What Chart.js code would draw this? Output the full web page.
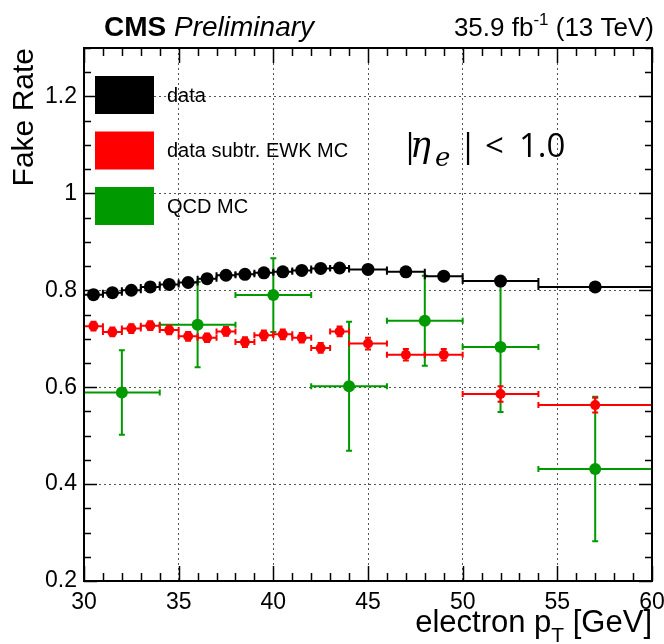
<!DOCTYPE html>
<html>
<head>
<meta charset="utf-8">
<title>Fake rate vs electron pT</title>
<script src="https://cdn.jsdelivr.net/npm/chart.js@4.4.1/dist/chart.umd.min.js"></script>
<style>
  html, body { margin: 0; padding: 0; background: #fff; }
</style>
</head>
<body>
<canvas id="fr" width="664" height="644"></canvas>
<script>
// electron pT bins (centre, half width) used by data and EWK-subtracted data
var ptBins = [30.5, 31.5, 32.5, 33.5, 34.5, 35.5, 36.5, 37.5, 38.5, 39.5, 40.5, 41.5, 42.5, 43.5, 45, 47, 49, 52, 57];
var ptHalf = [0.5, 0.5, 0.5, 0.5, 0.5, 0.5, 0.5, 0.5, 0.5, 0.5, 0.5, 0.5, 0.5, 0.5, 1, 1, 1, 2, 3];

var fakeData = [0.791, 0.795, 0.800, 0.807, 0.812, 0.816, 0.824, 0.831, 0.833, 0.836, 0.838, 0.841, 0.845, 0.846, 0.843, 0.838, 0.829, 0.819, 0.807];
var fakeDataErr = [0.004, 0.004, 0.004, 0.004, 0.004, 0.004, 0.004, 0.004, 0.004, 0.004, 0.004, 0.004, 0.004, 0.004, 0.004, 0.004, 0.004, 0.005, 0.005];

var fakeSubtr = [0.726, 0.714, 0.721, 0.727, 0.718, 0.705, 0.702, 0.715, 0.693, 0.707, 0.709, 0.702, 0.681, 0.715, 0.690, 0.667, 0.667, 0.586, 0.563];
var fakeSubtrErr = [0.009, 0.009, 0.009, 0.009, 0.009, 0.009, 0.009, 0.009, 0.010, 0.010, 0.010, 0.010, 0.010, 0.010, 0.012, 0.012, 0.012, 0.016, 0.015];

// QCD MC uses coarser bins
var qcdBins = [32, 36, 40, 44, 48, 52, 57];
var qcdHalf = [2, 2, 2, 2, 2, 2, 3];
var fakeQcd = [0.589, 0.729, 0.790, 0.602, 0.737, 0.683, 0.431];
var fakeQcdErr = [0.087, 0.088, 0.076, 0.133, 0.093, 0.134, 0.149];

var xTicks = [30, 35, 40, 45, 50, 55, 60];
var yTicks = [0.2, 0.4, 0.6, 0.8, 1, 1.2];
var legendLabels = ['data', 'data subtr. EWK MC', 'QCD MC'];
var colors = ['#000000', '#ff0000', '#009900'];

function points(xs, ys) {
  return xs.map(function (x, i) { return { x: x, y: ys[i] }; });
}

// horizontal bin bars and vertical error bars, drawn just before each dataset's markers
var errorBars = {
  id: 'errorBars',
  beforeDatasetDraw: function (chart, args) {
    var ds = chart.data.datasets[args.index];
    var xs = chart.scales.x, ys = chart.scales.y, a = chart.chartArea;
    var ctx = chart.ctx;
    ctx.save();
    ctx.beginPath();
    ctx.rect(a.left, a.top, a.right - a.left, a.bottom - a.top);
    ctx.clip();
    ctx.strokeStyle = ds.pointBackgroundColor;
    ctx.lineWidth = 2;
    ds.data.forEach(function (p, i) {
      var px = xs.getPixelForValue(p.x), py = ys.getPixelForValue(p.y);
      var x0 = xs.getPixelForValue(p.x - ds.errX[i]), x1 = xs.getPixelForValue(p.x + ds.errX[i]);
      var y0 = ys.getPixelForValue(p.y - ds.errY[i]), y1 = ys.getPixelForValue(p.y + ds.errY[i]);
      ctx.beginPath();
      ctx.moveTo(x0, py); ctx.lineTo(x1, py);
      ctx.moveTo(x0, py - 3); ctx.lineTo(x0, py + 3);
      ctx.moveTo(x1, py - 3); ctx.lineTo(x1, py + 3);
      ctx.moveTo(px, y0); ctx.lineTo(px, y1);
      ctx.moveTo(px - 3, y0); ctx.lineTo(px + 3, y0);
      ctx.moveTo(px - 3, y1); ctx.lineTo(px + 3, y1);
      ctx.stroke();
    });
    ctx.restore();
  }
};

// frame with inward ticks on all four sides, legend, labels
var decorations = {
  id: 'decorations',
  afterDraw: function (chart) {
    var ctx = chart.ctx, a = chart.chartArea;
    var xs = chart.scales.x, ys = chart.scales.y;
    ctx.save();
    ctx.strokeStyle = '#000';
    ctx.lineWidth = 2;
    ctx.strokeRect(a.left, a.top, a.right - a.left, a.bottom - a.top);

    ctx.lineWidth = 1.5;
    ctx.beginPath();
    for (var v = 30; v <= 60; v++) {
      var len = (v % 5 === 0) ? 15 : 8;
      var px = Math.round(xs.getPixelForValue(v)) + 0.5;
      ctx.moveTo(px, a.bottom); ctx.lineTo(px, a.bottom - len);
      ctx.moveTo(px, a.top); ctx.lineTo(px, a.top + len);
    }
    for (var k = 4; k <= 26; k++) {
      var val = k * 0.05;
      var lenY = (k % 4 === 0) ? 13 : 7;
      var py = Math.round(ys.getPixelForValue(val)) + 0.5;
      ctx.moveTo(a.left, py); ctx.lineTo(a.left + lenY, py);
      ctx.moveTo(a.right, py); ctx.lineTo(a.right - lenY, py);
    }
    ctx.stroke();

    // legend
    ctx.textBaseline = 'middle';
    ctx.textAlign = 'left';
    ctx.font = '20px "Liberation Sans"';
    legendLabels.forEach(function (lab, i) {
      var top = 76 + i * 55.5;
      ctx.fillStyle = colors[i];
      ctx.fillRect(95, top, 59, 38);
      ctx.fillStyle = '#000';
      ctx.fillText(lab, 167, top + 20);
    });

    // header
    ctx.textBaseline = 'alphabetic';
    ctx.fillStyle = '#000';
    ctx.font = 'bold 28px "Liberation Sans"';
    ctx.fillText('CMS', 104, 36);
    var wc = ctx.measureText('CMS ').width;
    ctx.font = 'italic 28px "Liberation Sans"';
    ctx.fillText('Preliminary', 104 + wc, 36);

    var l1 = '35.9 fb', l2 = '-1', l3 = ' (13 TeV)';
    ctx.font = '26px "Liberation Sans"';
    var w1 = ctx.measureText(l1).width, w3 = ctx.measureText(l3).width;
    ctx.font = '17px "Liberation Sans"';
    var w2 = ctx.measureText(l2).width;
    var lx = 654 - (w1 + w2 + w3);
    ctx.font = '26px "Liberation Sans"';
    ctx.fillText(l1, lx, 36);
    ctx.fillText(l3, lx + w1 + w2, 36);
    ctx.font = '17px "Liberation Sans"';
    ctx.fillText(l2, lx + w1, 25);

    // axis titles
    ctx.font = '31px "Liberation Sans"';
    var t1 = 'electron p', t3 = ' [GeV]';
    var wt1 = ctx.measureText(t1).width, wt3 = ctx.measureText(t3).width;
    ctx.font = '21px "Liberation Sans"';
    var wt2 = ctx.measureText('T').width;
    var tx = a.right - (wt1 + wt2 + wt3);
    ctx.font = '31px "Liberation Sans"';
    ctx.fillText(t1, tx, 632);
    ctx.fillText(t3, tx + wt1 + wt2, 632);
    ctx.font = '21px "Liberation Sans"';
    ctx.fillText('T', tx + wt1, 642);

    ctx.save();
    ctx.translate(33, a.top);
    ctx.rotate(-Math.PI / 2);
    ctx.textAlign = 'right';
    ctx.font = '30px "Liberation Sans"';
    ctx.fillText('Fake Rate', 0, 0);
    ctx.restore();

    // |eta_e| < 1.0
    var ey = 157;
    ctx.font = '33px "Open Sans"';
    ctx.fillText('|', 401, ey);
    ctx.fillText('|', 459, ey);
    ctx.fillText('<', 485, ey);
    ctx.fillText('1.0', 519, ey);
    ctx.font = 'italic 35px "DejaVu Serif"';
    ctx.fillText('\u03B7', 410, ey);
    ctx.font = 'italic 26px "DejaVu Serif"';
    ctx.fillText('e', 435, ey + 9);
    ctx.restore();
  }
};

Chart.defaults.font.family = '"Liberation Sans", Arial, sans-serif';

new Chart(document.getElementById('fr'), {
  type: 'scatter',
  data: {
    datasets: [
      {
        label: legendLabels[0],
        data: points(ptBins, fakeData),
        errX: ptHalf, errY: fakeDataErr,
        pointRadius: 6.5, pointBorderWidth: 0,
        pointBackgroundColor: colors[0], borderColor: colors[0]
      },
      {
        label: legendLabels[1],
        data: points(ptBins, fakeSubtr),
        errX: ptHalf, errY: fakeSubtrErr,
        pointRadius: 5, pointBorderWidth: 0,
        pointBackgroundColor: colors[1], borderColor: colors[1]
      },
      {
        label: legendLabels[2],
        data: points(qcdBins, fakeQcd),
        errX: qcdHalf, errY: fakeQcdErr,
        pointRadius: 6, pointBorderWidth: 0,
        pointBackgroundColor: colors[2], borderColor: colors[2]
      }
    ]
  },
  options: {
    responsive: false,
    animation: false,
    devicePixelRatio: 1,
    layout: { padding: { top: 48, right: 12, left: 0, bottom: 0 } },
    plugins: { legend: { display: false }, tooltip: { enabled: false } },
    scales: {
      x: {
        type: 'linear', min: 30, max: 60,
        afterBuildTicks: function (s) { s.ticks = xTicks.map(function (v) { return { value: v }; }); },
        afterFit: function (s) { s.height = 63; s.paddingLeft = 0; s.paddingRight = 0; },
        grid: { color: '#555', lineWidth: 1, drawTicks: false },
        border: { display: false, dash: [2, 3] },
        ticks: { color: '#000', font: { size: 23 }, padding: 8, maxRotation: 0, autoSkip: false }
      },
      y: {
        type: 'linear', min: 0.2, max: 1.3,
        afterBuildTicks: function (s) { s.ticks = yTicks.map(function (v) { return { value: v }; }); },
        afterFit: function (s) { s.width = 84; s.paddingTop = 0; s.paddingBottom = 0; },
        grid: { color: '#555', lineWidth: 1, drawTicks: false },
        border: { display: false, dash: [2, 3] },
        ticks: {
          color: '#000', font: { size: 23 }, padding: 7,
          callback: function (v) { return String(v); }
        }
      }
    }
  },
  plugins: [errorBars, decorations]
});
</script>
</body>
</html>
